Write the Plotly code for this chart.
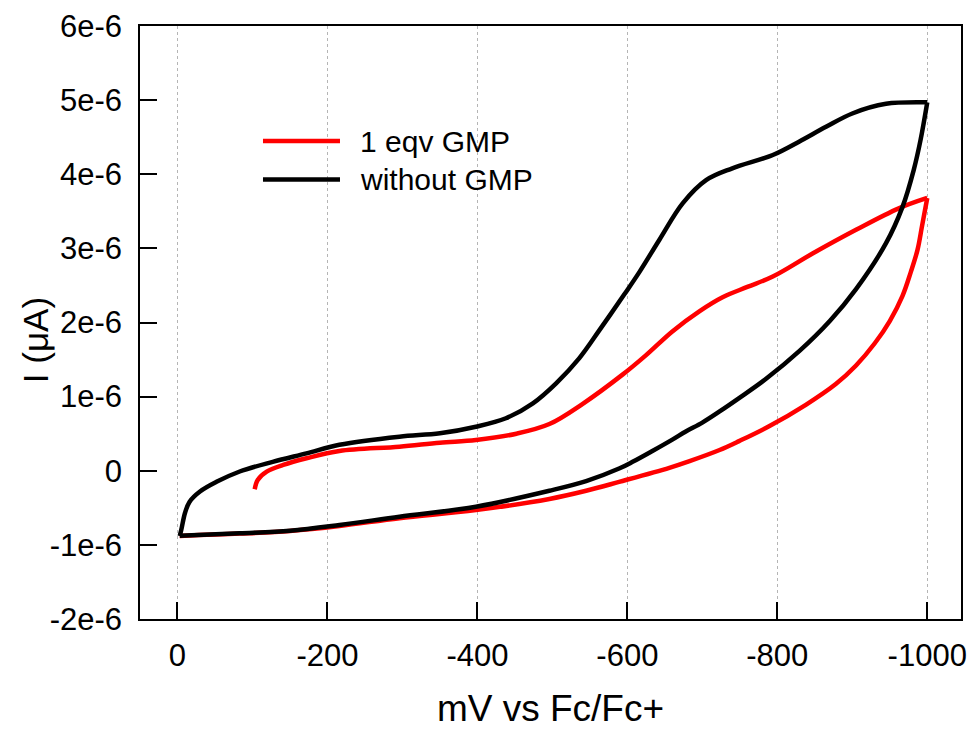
import plotly.graph_objects as go

# ---- data (mV vs Fc/Fc+, current in A) ----
black_x = [-3, -5, -10, -16, -30, -52, -83, -127, -172, -216, -296, -350, -398, -438, -474, -505,
           -536, -563, -596, -616, -643, -674, -705, -740, -794, -829, -865, -900, -945, -996, -1000,
           -991, -982, -967, -945, -905, -870, -830, -785, -749, -723, -700, -678, -660, -634, -607,
           -589, -545, -496, -398, -296, -216, -150, -83, -3]
black_y = [-0.88, -0.80, -0.57, -0.42, -0.28, -0.15, -0.01, 0.12, 0.235, 0.35, 0.46, 0.505, 0.594,
           0.708, 0.91, 1.18, 1.52, 1.90, 2.38, 2.68, 3.12, 3.61, 3.92, 4.08, 4.26, 4.44, 4.64, 4.82,
           4.95, 4.97, 4.97,
           4.46, 4.06, 3.56, 3.07, 2.45, 2.02, 1.62, 1.24, 0.98, 0.80, 0.65, 0.53, 0.42, 0.27, 0.12,
           0.03, -0.14, -0.27, -0.485, -0.62, -0.732, -0.809, -0.844, -0.877]

red_x = [-103, -107, -119, -141, -172, -216, -296, -350, -398, -452, -496, -540, -594, -625, -660,
         -696, -727, -760, -794, -847, -905, -962, -1000,
         -993, -987, -978, -967, -950, -930, -905, -878, -838, -789, -749, -723, -683, -656, -589,
         -545, -496, -398, -296, -216, -150, -83, -3]
red_y = [-0.25, -0.125, -0.013, 0.078, 0.168, 0.267, 0.325, 0.379, 0.415, 0.50, 0.63, 0.90, 1.30,
         1.56, 1.88, 2.15, 2.34, 2.48, 2.62, 2.93, 3.25, 3.54, 3.68,
         3.30, 2.98, 2.68, 2.36, 2.02, 1.72, 1.42, 1.17, 0.89, 0.60, 0.40, 0.28, 0.13, 0.04, -0.15,
         -0.27, -0.38, -0.53, -0.64, -0.745, -0.812, -0.848, -0.879]

series_names = ["1 eqv GMP", "without GMP"]
series_colors = ["#ff0000", "#000000"]

x_tickvals = [0, -200, -400, -600, -800, -1000]
x_ticktext = ["0", "-200", "-400", "-600", "-800", "-1000"]
y_tickvals = [6e-6, 5e-6, 4e-6, 3e-6, 2e-6, 1e-6, 0, -1e-6, -2e-6]
y_ticktext = ["6e-6", "5e-6", "4e-6", "3e-6", "2e-6", "1e-6", "0", "-1e-6", "-2e-6"]

FONT = "Liberation Sans, Arial, sans-serif"
TICK_FS = 31
XTITLE_FS = 37
YTITLE_FS = 35
LEG_FS = 30

fig = go.Figure()


def add_cv(xs, ys, color, name):
    # split at switching potential so that the vertex stays sharp
    k = xs.index(min(xs))
    for a, b in ((0, k + 1), (k, len(xs))):
        fig.add_trace(go.Scatter(x=xs[a:b], y=[v * 1e-6 for v in ys[a:b]], mode="lines",
                                 line=dict(color=color, width=4.5, shape="spline", smoothing=1.0),
                                 name=name, showlegend=False))


add_cv(red_x, red_y, series_colors[0], series_names[0])
add_cv(black_x, black_y, series_colors[1], series_names[1])

# manual legend (long sample lines as in reference)
leg_y = [0.806, 0.741]
for name, col, yy in zip(series_names, series_colors, leg_y):
    fig.add_shape(type="line", xref="paper", yref="paper", x0=0.1498, x1=0.2436, y0=yy, y1=yy,
                  line=dict(color=col, width=4.5))
    fig.add_annotation(xref="paper", yref="paper", x=0.2655, y=yy, text=name, showarrow=False,
                       xanchor="left", yanchor="middle", font=dict(family=FONT, size=LEG_FS, color="black"))

# y-axis title
fig.add_annotation(xref="paper", yref="paper", x=-0.128, y=0.47, text="I (μA)", textangle=-90,
                   showarrow=False, xanchor="center", yanchor="middle",
                   font=dict(family=FONT, size=YTITLE_FS, color="black"))

fig.update_layout(
    width=969, height=729,
    margin=dict(l=140, r=8, t=26, b=110),
    paper_bgcolor="white", plot_bgcolor="white",
    font=dict(family=FONT, size=TICK_FS, color="black"),
    showlegend=False,
)
fig.update_xaxes(
    range=[50, -1045], tickvals=x_tickvals, ticktext=x_ticktext, automargin=False,
    ticks="inside", ticklen=17, tickwidth=1.5, tickcolor="black",
    showline=True, linecolor="black", linewidth=1.5, mirror=True,
    showgrid=True, gridcolor="#b5b5b5", griddash="dot", gridwidth=1,
    zeroline=False, ticklabelstandoff=8, tickfont=dict(size=TICK_FS),
    title=dict(text="mV vs Fc/Fc+", font=dict(size=XTITLE_FS), standoff=26),
)
fig.update_yaxes(
    range=[-2e-6, 6e-6], tickvals=y_tickvals, ticktext=y_ticktext, automargin=False,
    ticks="inside", ticklen=17, tickwidth=1.5, tickcolor="black",
    showline=True, linecolor="black", linewidth=1.5, mirror=True,
    showgrid=False, zeroline=False, ticklabelstandoff=10, tickfont=dict(size=TICK_FS),
)

fig.write_html("out.html")
